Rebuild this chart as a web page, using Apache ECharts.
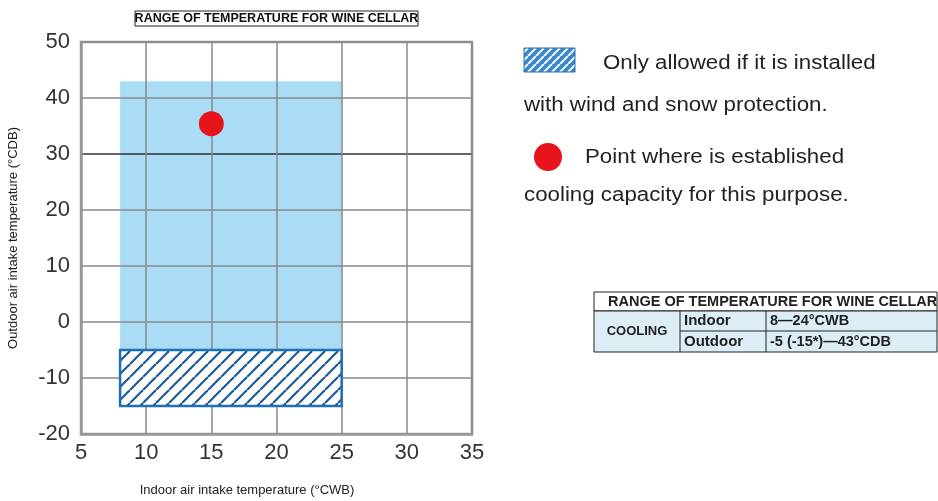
<!DOCTYPE html>
<html>
<head>
<meta charset="utf-8">
<script src="https://cdn.jsdelivr.net/npm/echarts@6/dist/echarts.min.js"></script>
<style>html,body{margin:0;padding:0;background:#fff;}#c{width:938px;height:501px;}</style>
</head>
<body>
<div id="c"></div>
<script>
// ---- data ----
const xTicksRange = [5, 35, 5];          // min, max, interval (°CWB)
const yTicksRange = [-20, 50, 10];       // min, max, interval (°CDB)
const indoorRange = [8, 25];             // operating range, indoor (x)
const outdoorRange = [-5, 43];           // operating range, outdoor (y)
const protectedRange = [-15, -5];        // only with wind & snow protection (y)
const ratingPoint = [15, 35.4];          // cooling capacity point
const chartTitle = 'RANGE OF TEMPERATURE FOR WINE CELLAR';
const xName = 'Indoor air intake temperature (°CWB)';
const yName = 'Outdoor air intake temperature (°CDB)';
const legendTexts = ['Only allowed if it is installed', 'with wind and snow protection.', 'Point where is established', 'cooling capacity for this purpose.'];
const tableHeader = 'RANGE OF TEMPERATURE FOR WINE CELLAR';
const tableMode = 'COOLING';
const tableRows = [['Indoor', '8—24°CWB'], ['Outdoor', '-5 (-15*)—43°CDB']];

function makeHatch(size, bg, fg, lw) {
  const c = document.createElement('canvas');
  c.width = size; c.height = size;
  const g = c.getContext('2d');
  g.fillStyle = bg; g.fillRect(0, 0, size, size);
  g.strokeStyle = fg; g.lineWidth = lw;
  for (const o of [-size, 0, size]) {
    g.beginPath(); g.moveTo(o, size); g.lineTo(o + size, 0); g.stroke();
  }
  return c;
}
const plotHatch = makeHatch(13, '#ffffff', '#1f5a96', 2.2);
const legendHatch = makeHatch(8, '#3a86c8', '#e6f2fb', 2.2);

const FONT = 'Liberation Sans, Arial, sans-serif';
const chart = echarts.init(document.getElementById('c'));

const gridColorsY = ['#888', '#888', '#888', '#888', '#888', '#333', '#888', '#888'];

const tX = 594, tY = 292, rowH = [19, 20, 21], colX = [594, 680, 766, 937];
const SX = 1.115;

function legendText(x, y, t) {
  return { type: 'text', x: x, y: y, scaleX: SX, style: { text: t, font: '20px ' + FONT, fill: '#222', verticalAlign: 'middle' } };
}

const graphics = [
  // title box
  { type: 'rect', shape: { x: 135, y: 11, width: 283, height: 15 }, style: { fill: '#fff', stroke: '#222', lineWidth: 1 } },
  { type: 'text', x: 276.5, y: 18.5, style: { text: chartTitle, font: 'bold 12.5px ' + FONT, fill: '#111', align: 'center', verticalAlign: 'middle' } },
  // x axis name
  { type: 'text', x: 247, y: 490, style: { text: xName, font: '13px ' + FONT, fill: '#222', align: 'center', verticalAlign: 'middle' } },
  // legend
  { type: 'rect', shape: { x: 524, y: 48, width: 51, height: 24 }, style: { fill: { image: legendHatch, repeat: 'repeat' }, stroke: '#2a6faf', lineWidth: 1 } },
  legendText(603, 63, legendTexts[0]),
  legendText(524, 105, legendTexts[1]),
  { type: 'circle', shape: { cx: 548, cy: 157, r: 14 }, style: { fill: '#e8141b' } },
  legendText(585, 157, legendTexts[2]),
  legendText(524, 195, legendTexts[3]),
  // table
  { type: 'rect', shape: { x: tX, y: tY, width: colX[3] - tX, height: rowH[0] }, style: { fill: '#fff', stroke: '#222', lineWidth: 1 } },
  { type: 'rect', shape: { x: tX, y: tY + rowH[0], width: colX[3] - tX, height: rowH[1] + rowH[2] }, style: { fill: '#dcedf6', stroke: '#222', lineWidth: 1 } },
  { type: 'line', shape: { x1: colX[1], y1: tY + rowH[0], x2: colX[1], y2: tY + rowH[0] + rowH[1] + rowH[2] }, style: { stroke: '#222', lineWidth: 1 } },
  { type: 'line', shape: { x1: colX[2], y1: tY + rowH[0], x2: colX[2], y2: tY + rowH[0] + rowH[1] + rowH[2] }, style: { stroke: '#222', lineWidth: 1 } },
  { type: 'line', shape: { x1: colX[1], y1: tY + rowH[0] + rowH[1], x2: colX[3], y2: tY + rowH[0] + rowH[1] }, style: { stroke: '#222', lineWidth: 1 } },
  { type: 'text', x: 608, y: tY + rowH[0] / 2 + 0.5, style: { text: tableHeader, font: 'bold 14.5px ' + FONT, fill: '#222', verticalAlign: 'middle' } },
  { type: 'text', x: (colX[0] + colX[1]) / 2, y: tY + rowH[0] + (rowH[1] + rowH[2]) / 2, style: { text: tableMode, font: 'bold 13px ' + FONT, fill: '#222', align: 'center', verticalAlign: 'middle' } },
  { type: 'text', x: colX[1] + 4, y: tY + rowH[0] + rowH[1] / 2, style: { text: tableRows[0][0], font: 'bold 15px ' + FONT, fill: '#222', verticalAlign: 'middle' } },
  { type: 'text', x: colX[2] + 4, y: tY + rowH[0] + rowH[1] / 2, style: { text: tableRows[0][1], font: 'bold 14.5px ' + FONT, fill: '#222', verticalAlign: 'middle' } },
  { type: 'text', x: colX[1] + 4, y: tY + rowH[0] + rowH[1] + rowH[2] / 2, style: { text: tableRows[1][0], font: 'bold 15px ' + FONT, fill: '#222', verticalAlign: 'middle' } },
  { type: 'text', x: colX[2] + 4, y: tY + rowH[0] + rowH[1] + rowH[2] / 2, style: { text: tableRows[1][1], font: 'bold 14.5px ' + FONT, fill: '#222', verticalAlign: 'middle' } }
];

chart.setOption({
  animation: false,
  backgroundColor: '#fff',
  grid: { left: 81, top: 42, width: 391, height: 392, show: true, borderColor: '#999', borderWidth: 2.5, backgroundColor: 'transparent' },
  xAxis: {
    type: 'value', min: xTicksRange[0], max: xTicksRange[1], interval: xTicksRange[2], z: 3,
    axisLine: { show: true, onZero: false, lineStyle: { color: '#999', width: 2.5 } },
    axisTick: { show: false },
    axisLabel: { color: '#333', fontSize: 22, fontFamily: FONT, margin: 8 },
    splitLine: { show: true, lineStyle: { color: '#888', width: 1.5 } }
  },
  yAxis: {
    type: 'value', min: yTicksRange[0], max: yTicksRange[1], interval: yTicksRange[2], z: 3,
    name: yName, nameLocation: 'middle', nameGap: 61, nameRotate: 90,
    nameTextStyle: { color: '#222', fontSize: 13, fontFamily: FONT },
    axisLine: { show: true, onZero: false, lineStyle: { color: '#999', width: 2.5 } },
    axisTick: { show: false },
    axisLabel: { color: '#333', fontSize: 22, fontFamily: FONT, margin: 11 },
    splitLine: { show: true, lineStyle: { color: gridColorsY, width: 1.5 } }
  },
  series: [
    {
      type: 'custom', z: 1,
      data: [[indoorRange[0], outdoorRange[0], indoorRange[1], outdoorRange[1]]],
      renderItem: function (params, api) {
        const p1 = api.coord([api.value(0), api.value(3)]);
        const p2 = api.coord([api.value(2), api.value(1)]);
        return { type: 'rect', shape: { x: p1[0], y: p1[1], width: p2[0] - p1[0], height: p2[1] - p1[1] }, style: { fill: '#abdcf5' } };
      }
    },
    {
      type: 'custom', z: 4,
      data: [[indoorRange[0], protectedRange[0], indoorRange[1], protectedRange[1]]],
      renderItem: function (params, api) {
        const p1 = api.coord([api.value(0), api.value(3)]);
        const p2 = api.coord([api.value(2), api.value(1)]);
        return { type: 'rect', shape: { x: p1[0], y: p1[1], width: p2[0] - p1[0], height: p2[1] - p1[1] }, style: { fill: { image: plotHatch, repeat: 'repeat' }, stroke: '#1f6fb8', lineWidth: 2.5 } };
      }
    },
    {
      type: 'scatter', z: 5,
      data: [ratingPoint],
      symbolSize: 25,
      itemStyle: { color: '#e8141b', opacity: 1 }
    }
  ],
  graphic: graphics
});
</script>
</body>
</html>
